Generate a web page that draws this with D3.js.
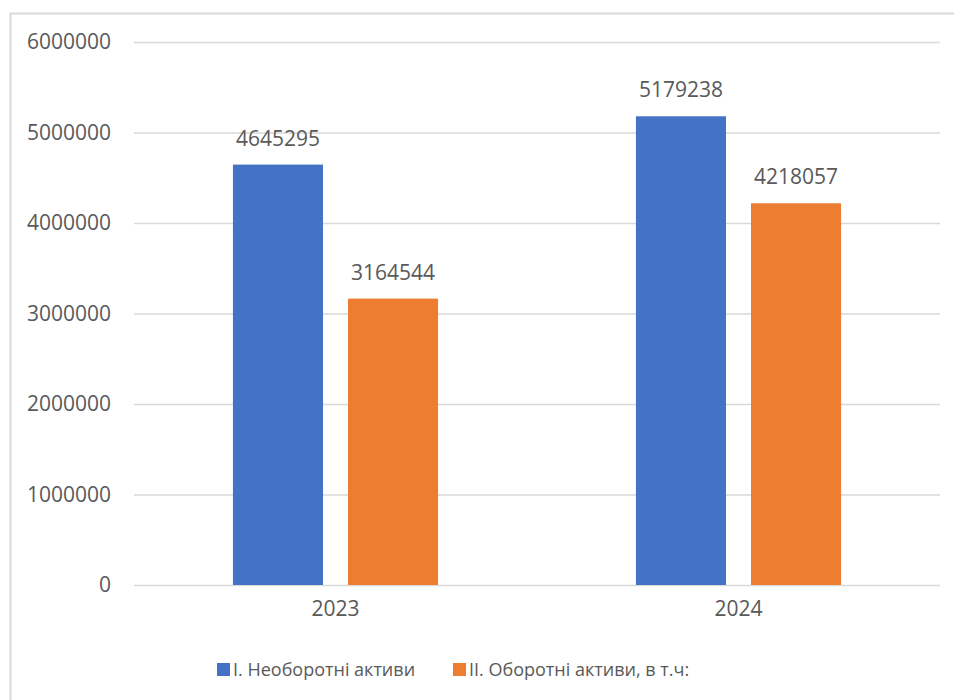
<!DOCTYPE html>
<html>
<head>
<meta charset="utf-8">
<script src="https://cdn.jsdelivr.net/npm/d3@7"></script>
<style>
  body { margin: 0; background: #fff; }
  text { font-family: "Open Sans", sans-serif; fill: #595959; }
</style>
</head>
<body>
<script>
// data
var years = ["2023", "2024"];
var seriesNames = ["I. Необоротні активи", "II. Оборотні активи, в т.ч:"];
var nonCurrent = [4645295, 5179238];
var current = [3164544, 4218057];
var yTicks = [0, 1000000, 2000000, 3000000, 4000000, 5000000, 6000000];
var colors = ["#4472C4", "#ED7D31"];

var W = 954, H = 700;
var margin = {top: 42, right: 14, bottom: 115, left: 134},
    width = W - margin.left - margin.right,
    height = H - margin.top - margin.bottom;

var svg = d3.select("body").append("svg")
    .attr("width", W)
    .attr("height", H);

// chart frame
svg.append("rect")
    .attr("x", 10.5).attr("y", 13.5)
    .attr("width", 960).attr("height", 720)
    .attr("fill", "none")
    .attr("stroke", "#d9d9d9")
    .attr("stroke-width", 2);

var g = svg.append("g")
    .attr("transform", "translate(" + margin.left + "," + margin.top + ")");

var y = d3.scaleLinear().domain([0, 6000000]).range([height, 0]);

var x0 = d3.scaleBand()
    .domain(years)
    .range([0, width])
    .paddingInner(0.491)
    .paddingOuter(0.2455);

var x1 = d3.scaleBand()
    .domain([0, 1])
    .range([0, x0.bandwidth()])
    .paddingInner(0.217);

// gridlines + y labels
var yAxis = g.append("g")
    .call(d3.axisLeft(y).tickValues(yTicks).tickSize(-width).tickPadding(23).tickFormat(d3.format("d")));
yAxis.select(".domain").remove();
yAxis.selectAll(".tick line").attr("stroke", "#d9d9d9").attr("stroke-width", 1.5);
yAxis.selectAll(".tick text").style("font-size", "21px").attr("fill", "#595959");

// x labels
var xAxis = g.append("g")
    .attr("transform", "translate(0," + height + ")")
    .call(d3.axisBottom(x0).tickSize(0).tickPadding(16));
xAxis.select(".domain").remove();
xAxis.selectAll(".tick text").style("font-size", "21px").attr("fill", "#595959");

var rows = [];
years.forEach(function(yr, i) {
  rows.push({year: yr, s: 0, v: nonCurrent[i]});
  rows.push({year: yr, s: 1, v: current[i]});
});

g.selectAll(".bar")
  .data(rows)
  .enter()
  .append("rect")
    .attr("x", function(d) { return x0(d.year) + x1(d.s); })
    .attr("y", function(d) { return y(d.v); })
    .attr("width", x1.bandwidth())
    .attr("height", function(d) { return height - y(d.v); })
    .attr("fill", function(d) { return colors[d.s]; });

g.selectAll(".lbl")
  .data(rows)
  .enter()
  .append("text")
    .attr("x", function(d) { return x0(d.year) + x1(d.s) + x1.bandwidth() / 2; })
    .attr("y", function(d) { return y(d.v) - 19; })
    .attr("text-anchor", "middle")
    .style("font-size", "21px")
    .text(function(d) { return d.v; });

// legend
var legX = [217, 453];
var leg = svg.selectAll(".leg")
  .data(seriesNames)
  .enter()
  .append("g")
    .attr("transform", function(d, i) { return "translate(" + legX[i] + ",663)"; });
leg.append("rect")
    .attr("width", 13).attr("height", 13)
    .attr("fill", function(d, i) { return colors[i]; });
leg.append("text")
    .attr("x", 16).attr("y", 6.5)
    .attr("dy", "0.35em")
    .style("font-size", "18px")
    .text(function(d) { return d; });
</script>
</body>
</html>
